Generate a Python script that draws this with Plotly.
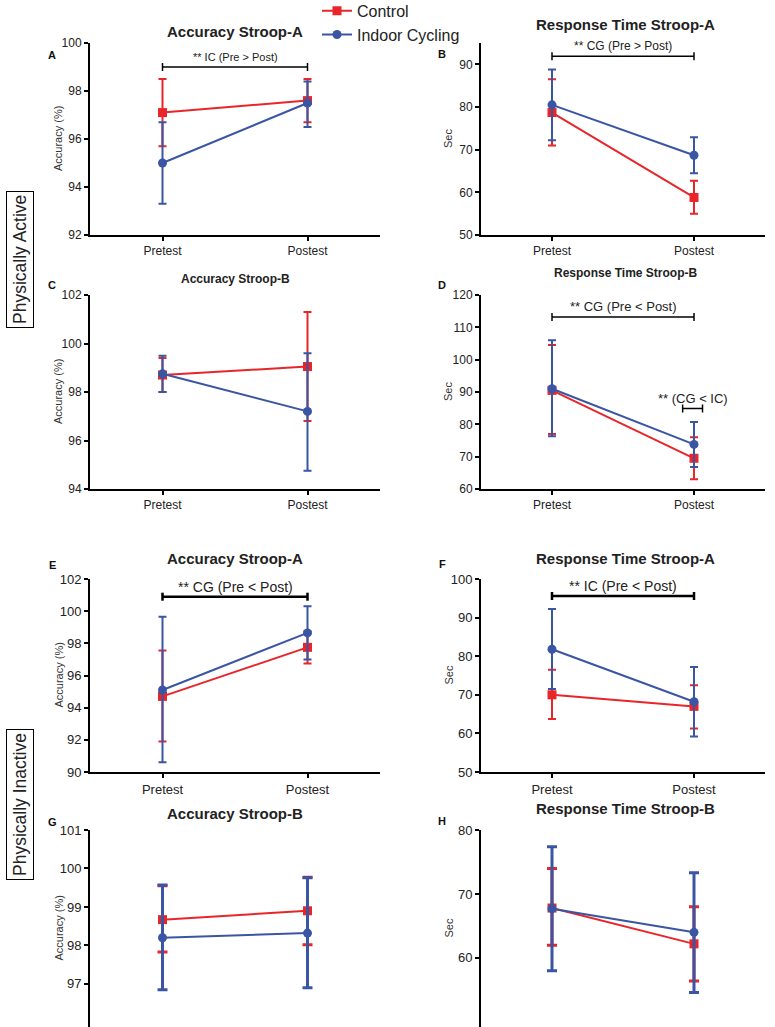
import plotly.graph_objects as go

categories = ["Pretest", "Postest"]

# Panel data: mean, lower error, upper error (absolute bounds)
panel_ids = ["A", "B", "C", "D", "E", "F", "G", "H"]
panel_titles = ["Accuracy Stroop-A", "Response Time Stroop-A", "Accuracy Stroop-B", "Response Time Stroop-B",
                "Accuracy Stroop-A", "Response Time Stroop-A", "Accuracy Stroop-B", "Response Time Stroop-B"]
y_titles = ["Accuracy (%)", "Sec", "Accuracy (%)", "Sec", "Accuracy (%)", "Sec", "Accuracy (%)", "Sec"]

control_mean = [[97.1, 97.6], [78.7, 58.8], [98.7, 99.05], [90.5, 69.5],
                [94.7, 97.75], [70.0, 67.0], [98.67, 98.9], [67.8, 62.2]]
control_low = [[95.7, 96.7], [71.0, 55.0], [98.0, 96.8], [77.0, 63.0],
               [91.9, 96.75], [63.7, 61.3], [97.83, 98.02], [62.0, 56.4]]
control_high = [[98.5, 98.5], [86.5, 62.7], [99.4, 101.3], [104.5, 76.0],
                [97.55, 98.75], [76.5, 72.5], [99.55, 99.77], [74.0, 68.0]]

ic_mean = [[95.0, 97.5], [80.5, 68.7], [98.75, 97.2], [91.0, 73.8],
           [95.1, 98.65], [81.8, 68.2], [98.2, 98.32], [67.7, 64.0]]
ic_low = [[93.3, 96.5], [72.2, 64.5], [98.0, 94.75], [76.3, 66.8],
          [90.6, 97.0], [71.5, 59.2], [96.85, 96.9], [58.0, 54.6]]
ic_high = [[96.7, 98.4], [88.8, 72.9], [99.5, 99.6], [106.0, 80.7],
           [99.65, 100.3], [92.2, 77.2], [99.57, 99.76], [77.4, 73.3]]

y_ranges = [[92, 100], [50, 95], [94, 102], [60, 120], [90, 102], [50, 100], [95.88, 101], [49.2, 80]]
y_ticks = [[92, 94, 96, 98, 100], [50, 60, 70, 80, 90], [94, 96, 98, 100, 102],
           [60, 70, 80, 90, 100, 110, 120], [90, 92, 94, 96, 98, 100, 102],
           [50, 60, 70, 80, 90, 100], [97, 98, 99, 100, 101], [60, 70, 80]]

# significance brackets: panel index, x start, x end, y level, label
bracket_panel = [0, 1, 3, 3, 4, 5]
bracket_x0 = [0, 0, 0, 0.92, 0, 0]
bracket_x1 = [1, 1, 1, 1.06, 1, 1]
bracket_y = [99.0, 91.9, 113.2, 84.9, 100.9, 95.6]
bracket_text = ["** IC (Pre > Post)", "** CG (Pre > Post)", "** CG (Pre < Post)",
                "** (CG < IC)", "** CG (Pre < Post)", "** IC (Pre < Post)"]
bracket_font = [11, 12, 13, 13, 14, 14]

RED = "#e8262a"
BLUE = "#3a55a4"
FONT = "Arial, Liberation Sans, sans-serif"

W, H = 775, 1027
x_domains = [[90 / W, 380 / W], [481 / W, 765 / W]]
y_px = [[43, 235], [295, 489], [579, 772], [830, 1027]]
title_px = [32, 24, 279, 273, 558, 558, 813, 808]
title_size = [15, 15, 12, 12, 15, 15, 15, 15]
tick_size = [12, 12, 12, 12, 13, 13, 13, 13]
letter_px = [55, 54, 285, 285, 565, 564, 822, 821]
ytitle_x = [58, 448]

fig = go.Figure()
layout_axes = {}
annotations = []
shapes = []

for i in range(8):
    row, col = divmod(i, 2)
    n = i + 1
    xa = "x" if n == 1 else f"x{n}"
    ya = "y" if n == 1 else f"y{n}"
    show = i == 0
    thick = 3 if i >= 6 else 2
    capw = 5 if i >= 6 else 4
    fig.add_trace(go.Scatter(
        x=categories, y=control_mean[i], xaxis=xa, yaxis=ya, name="Control",
        mode="lines+markers", showlegend=show, legendgroup="c",
        line=dict(color=RED, width=2), marker=dict(symbol="square", size=9, color=RED),
        error_y=dict(type="data", symmetric=False,
                     array=[h - m for h, m in zip(control_high[i], control_mean[i])],
                     arrayminus=[m - l for m, l in zip(control_mean[i], control_low[i])],
                     color=RED, thickness=thick, width=capw)))
    fig.add_trace(go.Scatter(
        x=categories, y=ic_mean[i], xaxis=xa, yaxis=ya, name="Indoor Cycling",
        mode="lines+markers", showlegend=show, legendgroup="i",
        line=dict(color=BLUE, width=2), marker=dict(symbol="circle", size=9, color=BLUE),
        error_y=dict(type="data", symmetric=False,
                     array=[h - m for h, m in zip(ic_high[i], ic_mean[i])],
                     arrayminus=[m - l for m, l in zip(ic_mean[i], ic_low[i])],
                     color=BLUE, thickness=thick, width=capw)))

    top, bot = y_px[row]
    ydom = [1 - bot / H, 1 - top / H]
    xkey = "xaxis" if n == 1 else f"xaxis{n}"
    ykey = "yaxis" if n == 1 else f"yaxis{n}"
    layout_axes[xkey] = dict(
        domain=x_domains[col], anchor=ya, type="category", categoryorder="array",
        categoryarray=categories, range=[-0.5, 1.5], showgrid=False, zeroline=False,
        showline=(row < 3), linecolor="black", linewidth=2, ticks="outside" if row < 3 else "",
        ticklen=4, tickwidth=2, tickcolor="black", showticklabels=(row < 3),
        tickfont=dict(family=FONT, size=tick_size[i], color="#222"), automargin=False)
    layout_axes[ykey] = dict(
        domain=ydom, anchor=xa, range=y_ranges[i], tickvals=y_ticks[i], showgrid=False,
        zeroline=False, showline=True, linecolor="black", linewidth=2, ticks="outside",
        ticklen=4, tickwidth=2, tickcolor="black", automargin=False,
        tickfont=dict(family=FONT, size=tick_size[i], color="#222"))
    annotations.append(dict(text=y_titles[i], x=ytitle_x[col] / W, y=(ydom[0] + ydom[1]) / 2,
                            xref="paper", yref="paper", showarrow=False, textangle=-90,
                            xanchor="center", yanchor="middle",
                            font=dict(family=FONT, size=11, color="#333")))

    tcx = 235 if col == 0 else 625
    annotations.append(dict(text=f"<b>{panel_titles[i]}</b>", x=tcx / W, y=1 - title_px[i] / H,
                            xref="paper", yref="paper", showarrow=False, xanchor="center",
                            yanchor="middle", font=dict(family=FONT, size=title_size[i], color="#222")))
    annotations.append(dict(text=f"<b>{panel_ids[i]}</b>", x=(52 if col == 0 else 442) / W,
                            y=1 - letter_px[i] / H, xref="paper", yref="paper", showarrow=False,
                            xanchor="center", yanchor="middle",
                            font=dict(family=FONT, size=11, color="#111")))

for b in range(len(bracket_panel)):
    n = bracket_panel[b] + 1
    xa = "x" if n == 1 else f"x{n}"
    ya = "y" if n == 1 else f"y{n}"
    lw = 2.5 if n >= 5 else 1.5
    shapes.append(dict(type="line", xref=xa, yref=ya, x0=bracket_x0[b], x1=bracket_x1[b],
                       y0=bracket_y[b], y1=bracket_y[b], line=dict(color="black", width=lw)))
    for xe in (bracket_x0[b], bracket_x1[b]):
        shapes.append(dict(type="line", xref=xa, yref=ya, x0=xe, x1=xe, ysizemode="pixel",
                           yanchor=bracket_y[b], y0=-4, y1=4, line=dict(color="black", width=lw)))
    annotations.append(dict(text=bracket_text[b], xref=xa, yref=ya,
                            x=(bracket_x0[b] + bracket_x1[b]) / 2, y=bracket_y[b],
                            yshift=10, showarrow=False, xanchor="center", yanchor="middle",
                            font=dict(family=FONT, size=bracket_font[b], color="#222")))

# side group labels
for label, cy in [("Physically Active", 260), ("Physically Inactive", 805)]:
    annotations.append(dict(text=label, x=20 / W, y=1 - cy / H, xref="paper", yref="paper",
                            showarrow=False, textangle=-90, xanchor="center", yanchor="middle",
                            bordercolor="black", borderwidth=1, borderpad=3,
                            font=dict(family=FONT, size=17.5, color="#222")))

fig.update_layout(
    width=W, height=H, margin=dict(l=0, r=0, t=0, b=0, autoexpand=False),
    paper_bgcolor="white", plot_bgcolor="white",
    font=dict(family=FONT, color="#222"),
    showlegend=True,
    legend=dict(x=317 / W, y=1.006, xanchor="left", yanchor="top", bgcolor="rgba(0,0,0,0)",
                font=dict(family=FONT, size=16, color="#222"), tracegroupgap=0,
                itemwidth=30),
    annotations=annotations, shapes=shapes,
    **layout_axes)

fig.write_html("out.html", config={"displayModeBar": False},
               post_script="document.body.style.margin='0';document.body.style.overflow='hidden';")
